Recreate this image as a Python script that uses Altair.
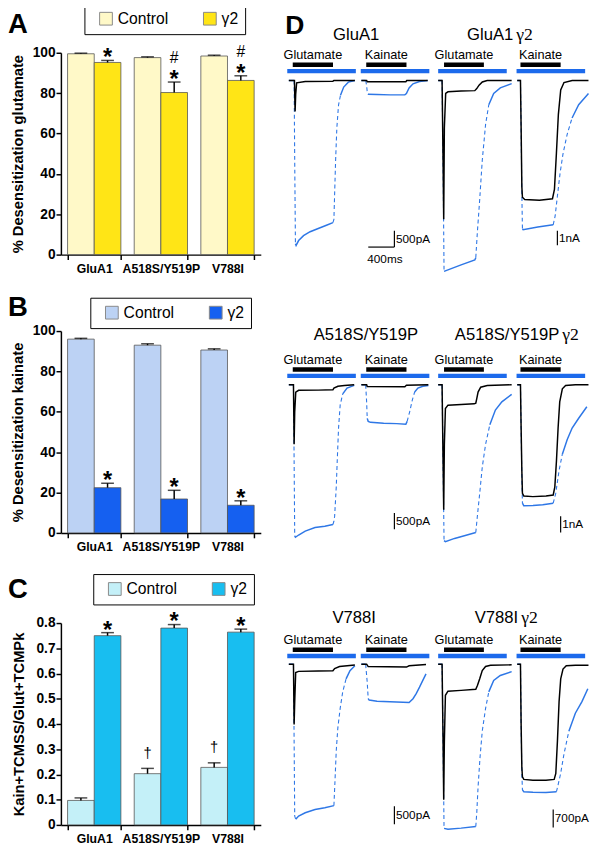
import altair as alt
import pandas as pd

SANS = "Liberation Sans, Arial, Helvetica, sans-serif"
SERIF = "Liberation Serif, Times New Roman, serif"

# ---------------- bar panels (A, B, C) ----------------
groups = ["GluA1", "A518S/Y519P", "V788I"]
conds = ["Control", "γ2"]

a_ctrl = [99.5, 97.6, 98.4]
a_ctrl_err = [0.3, 0.4, 0.4]
a_g2 = [95.2, 80.3, 86.3]
a_g2_err = [1.0, 5.2, 2.3]
a_star_g2 = ["*", "*", "*"]
a_hash_g2 = ["", "#", "#"]

b_ctrl = [96.0, 93.0, 90.6]
b_ctrl_err = [0.4, 0.7, 0.6]
b_g2 = [22.4, 16.8, 13.7]
b_g2_err = [2.2, 4.3, 2.2]
b_star_g2 = ["*", "*", "*"]

c_ctrl = [0.097, 0.203, 0.228]
c_ctrl_err = [0.010, 0.021, 0.018]
c_g2 = [0.750, 0.780, 0.764]
c_g2_err = [0.012, 0.014, 0.012]
c_star_g2 = ["*", "*", "*"]
c_dag_ctrl = ["", "†", "†"]

pct_ticks = [0, 20, 40, 60, 80, 100]
ratio_ticks = [0, 0.1, 0.2, 0.3, 0.4, 0.5, 0.6, 0.7, 0.8]

A_COLORS = ["#FFF9C8", "#FFE516"]
B_COLORS = ["#BCD2F4", "#1560F0"]
C_COLORS = ["#C4F0F8", "#18BEF0"]

# ---------------- traces (panel D) : time in ms, current in pA ----------------
# row 1 : GluA1 / GluA1 γ2
r1_g1_blue_t = [24, 105, 114, 125, 135, 174, 249, 350, 474, 600, 699, 714, 740, 759, 785, 815, 864, 935, 1035]
r1_g1_blue_i = [0, 0, -2450, -5000, -5050, -4900, -4750, -4630, -4530, -4430, -4350, -4250, -2450, -1450, -750, -450, -200, -50, 0]
r1_g1_black_t = [24, 110, 120, 129, 144, 275, 699, 714, 1035]
r1_g1_black_i = [0, 0, -950, -420, -70, -30, -20, 0, 0]
r1_k1_blue_t = [9, 75, 90, 99, 110, 249, 450, 675, 699, 740, 800, 900, 1025]
r1_k1_blue_i = [0, 0, -150, -350, -420, -430, -440, -440, -400, -230, -100, -30, 0]
r1_k1_black_t = [9, 90, 99, 690, 705, 1025]
r1_k1_black_i = [0, 0, -40, -40, 0, 0]
r1_g2_blue_t = [0, 60, 75, 90, 150, 351, 561, 576, 600, 636, 675, 726, 775, 850, 951, 1125]
r1_g2_blue_i = [0, 0, -5440, -12990, -12890, -12550, -12220, -12060, -10330, -8100, -5440, -2990, -1650, -880, -500, -210]
r1_g2_black_t = [0, 60, 75, 85, 95, 115, 150, 351, 561, 591, 626, 676, 750, 1125]
r1_g2_black_i = [0, 0, -5440, -9440, -3220, -880, -770, -720, -690, -550, -320, -100, 0, 0]
r1_k2_blue_t = [10, 60, 70, 81, 90, 100, 325, 561, 591, 625, 666, 711, 775, 850, 951, 1101]
r1_k2_blue_i = [0, 0, -3220, -7660, -10100, -10150, -9970, -9820, -9220, -7880, -6320, -4990, -3660, -2550, -1650, -880]
r1_k2_black_t = [10, 60, 70, 81, 90, 125, 350, 550, 580, 610, 640, 676, 726, 851, 1101]
r1_k2_black_i = [0, 0, -3220, -7220, -7950, -8100, -8150, -8050, -7420, -4970, -2320, -650, -140, 0, 0]

# row 2 : A518S/Y519P / A518S/Y519P γ2
r2_g1_blue_t = [24, 95, 105, 114, 125, 174, 275, 425, 575, 699, 714, 725, 750, 765, 785, 810, 849, 915, 1025]
r2_g1_blue_i = [0, 0, -2330, -4630, -4670, -4600, -4480, -4370, -4330, -4280, -4180, -4030, -3130, -2330, -1330, -620, -280, -100, -20]
r2_g1_black_t = [24, 95, 105, 114, 130, 174, 475, 699, 714, 775, 875, 1025]
r2_g1_black_i = [0, 0, -1820, -830, -230, -170, -165, -155, -105, -45, -25, 0]
r2_k1_blue_t = [9, 75, 90, 99, 114, 150, 350, 549, 690, 710, 750, 789, 825, 875, 950, 1035]
r2_k1_blue_i = [0, 0, -520, -1030, -1120, -1150, -1180, -1190, -1210, -1120, -820, -470, -220, -100, -45, -20]
r2_k1_black_t = [9, 90, 99, 675, 699, 1035]
r2_k1_black_i = [0, 0, -55, -60, -15, 0]
r2_g2_blue_t = [0, 60, 75, 90, 111, 251, 401, 576, 600, 636, 675, 726, 791, 876, 975, 1125]
r2_g2_blue_i = [0, 0, -4650, -9550, -9610, -9410, -9250, -9050, -8050, -6650, -5050, -3650, -2450, -1550, -1050, -590]
r2_g2_black_t = [0, 60, 75, 85, 95, 111, 150, 351, 551, 576, 591, 611, 651, 751, 1125]
r2_g2_black_i = [0, 0, -4650, -7650, -3650, -1450, -1250, -1210, -1170, -1130, -850, -450, -150, -50, 0]
r2_k2_blue_t = [10, 60, 70, 81, 90, 111, 251, 401, 561, 600, 651, 701, 776, 851, 951, 1076]
r2_k2_blue_i = [0, 0, -2650, -5650, -7250, -7410, -7390, -7350, -7250, -6650, -5250, -4250, -3350, -2650, -2050, -1350]
r2_k2_black_t = [10, 60, 70, 81, 90, 111, 251, 451, 561, 586, 611, 636, 661, 701, 751, 901, 1101]
r2_k2_black_i = [0, 0, -2650, -5250, -6650, -6810, -6850, -6810, -6750, -6250, -4650, -2650, -1050, -250, -50, 0, 0]

# row 3 : V788I / V788I γ2
r3_g1_blue_t = [24, 95, 105, 114, 129, 174, 275, 425, 575, 714, 729, 750, 774, 810, 849, 900, 960, 1035]
r3_g1_blue_i = [0, 0, -2140, -4230, -4320, -4230, -4140, -4050, -4000, -3940, -3320, -2410, -1780, -1230, -770, -410, -180, -45]
r3_g1_black_t = [24, 95, 105, 114, 129, 174, 475, 699, 725, 800, 1035]
r3_g1_black_i = [0, 0, -1680, -1050, -230, -200, -190, -180, -120, -65, -25]
r3_k1_blue_t = [9, 75, 99, 114, 129, 249, 450, 740, 800, 849, 900, 950, 999]
r3_k1_blue_i = [0, 0, -500, -960, -1000, -1030, -1045, -1065, -960, -820, -640, -450, -270]
r3_k1_black_t = [9, 90, 114, 700, 740, 999]
r3_k1_black_i = [0, 0, -65, -80, -45, -10]
r3_g2_blue_t = [0, 60, 75, 90, 150, 351, 576, 591, 611, 641, 675, 726, 775, 850, 951, 1125]
r3_g2_blue_i = [0, 0, -2990, -6400, -6430, -6390, -6330, -5790, -4780, -3630, -2610, -1720, -1080, -630, -440, -290]
r3_g2_black_t = [0, 60, 75, 85, 95, 111, 150, 351, 576, 601, 636, 675, 726, 801, 1125]
r3_g2_black_i = [0, 0, -2990, -5280, -2990, -1210, -1050, -1020, -980, -830, -570, -250, -90, -40, -25]
r3_k2_blue_t = [10, 60, 70, 81, 90, 111, 251, 450, 611, 641, 675, 726, 801, 900, 1001, 1091]
r3_k2_blue_i = [0, 0, -2350, -4260, -4900, -4970, -4990, -5000, -4970, -4650, -4260, -3500, -2610, -1910, -1460, -955]
r3_k2_black_t = [10, 60, 70, 81, 90, 111, 251, 450, 576, 601, 626, 651, 676, 711, 761, 901, 1101]
r3_k2_black_i = [0, 0, -2350, -4010, -4390, -4490, -4520, -4520, -4490, -4260, -2990, -1460, -570, -190, -60, -40, -40]

# drug application windows (ms): [start, end]
app_glu = [84, 700]
app_kai = [84, 700]
app_glu_g2 = [90, 700]
app_kai_g2 = [60, 675]
tcm_window = [0, 1050]

# scale bars: [time, current top, current bottom]
sb_r1_k1 = [515, -4600, -5100]
sb_r1_k1_h = [115, 515, -5100]
sb_r1_k2 = [625, -10220, -11220]
sb_r2_k1 = [515, -3925, -4425]
sb_r2_k2 = [675, -8050, -9050]
sb_r3_k1 = [515, -3960, -4460]
sb_r3_k2 = [561, -5665, -6365]

TRACE_BLUE = "#2E77E6"
TCM_BLUE = "#1C6AEC"
LEG_W, LEG_H = 158, 27


def bar_panel(ctrl, ctrl_err, g2, g2_err, star_g, hash_g, dag_c, colors, ytitle,
              ydom, yvals, letter, letter_y, legx, legy, title_pad, label_expr=None):
    rows = []
    for gi, g in enumerate(groups):
        rows.append(dict(group=g, cond="Control", value=ctrl[gi], top=ctrl[gi] + ctrl_err[gi],
                         star="", hash="", dag=dag_c[gi]))
        rows.append(dict(group=g, cond="γ2", value=g2[gi], top=g2[gi] + g2_err[gi],
                         star=star_g[gi], hash=hash_g[gi], dag=""))
    df = pd.DataFrame(rows)
    base = alt.Chart(df)
    x = alt.X("group:N", sort=groups,
              scale=alt.Scale(paddingInner=0.2, paddingOuter=0.1),
              axis=alt.Axis(title=None, labelAngle=0, labelFont=SANS, labelFontSize=12.5,
                            labelFontWeight="bold", labelColor="black", tickBand="extent",
                            tickSize=5, tickWidth=1.5, tickColor="black", domainColor="black",
                            domainWidth=1.5, labelPadding=3, labelOverlap=False))
    xo = alt.XOffset("cond:N", sort=conds, scale=alt.Scale(domain=conds, paddingInner=0, paddingOuter=0))
    ax_kw = dict(values=yvals, title=ytitle, titleFont=SANS, titleFontSize=15, titleFontWeight="bold",
                 titleColor="black", titlePadding=title_pad, labelFont=SANS, labelFontSize=14,
                 labelFontWeight="bold", labelColor="black", tickSize=5, tickWidth=1.5,
                 tickColor="black", labelPadding=1, domainColor="black", domainWidth=1.5, grid=False,
                 labelOverlap=False)
    if label_expr:
        ax_kw["labelExpr"] = label_expr
    ysc = alt.Scale(domain=ydom, nice=False, zero=True)

    def Y(f):
        return alt.Y(f, type="quantitative", scale=ysc, axis=alt.Axis(**ax_kw))

    shadow = alt.Chart(pd.DataFrame({"z": [0]})).mark_rect(color="#2a2a2a").encode(
        x=alt.value(legx + 3), x2=alt.value(legx + 3 + LEG_W),
        y=alt.value(legy + 3), y2=alt.value(legy + 3 + LEG_H))
    bars = base.mark_bar(stroke="#555555", strokeWidth=0.8).encode(
        x=x, xOffset=xo, y=Y("value"),
        color=alt.Color("cond:N", scale=alt.Scale(domain=conds, range=colors),
                        legend=alt.Legend(orient="none", legendX=legx, legendY=legy,
                                          direction="horizontal", title=None,
                                          fillColor="white", strokeColor="black", padding=7,
                                          symbolType="square", symbolSize=169,
                                          symbolStrokeColor="#888888", symbolStrokeWidth=1,
                                          symbolOffset=7, labelFont=SANS, labelFontSize=16,
                                          labelColor="black", columnPadding=27)))
    err = base.mark_rule(color="black", strokeWidth=1.5).encode(x=x, xOffset=xo, y=Y("value"), y2="top:Q")
    cap = base.mark_tick(color="black", thickness=1.5, size=13).encode(x=x, xOffset=xo, y=Y("top"))
    star = base.mark_text(font=SANS, fontSize=24, fontWeight="bold", baseline="alphabetic", dy=5,
                          color="black").encode(x=x, xOffset=xo, y=Y("top"), text="star:N")
    hsh = base.mark_text(font=SANS, fontSize=16, baseline="alphabetic", dy=-19, color="black").encode(
        x=x, xOffset=xo, y=Y("top"), text="hash:N")
    dag = base.mark_text(font=SANS, fontSize=15, baseline="alphabetic", dy=-11, color="black").encode(
        x=x, xOffset=xo, y=Y("top"), text="dag:N")
    let = alt.Chart(pd.DataFrame({"L": [letter]})).mark_text(
        font=SANS, fontSize=28, fontWeight="bold", align="left", baseline="alphabetic",
        color="black").encode(x=alt.value(-54), y=alt.value(letter_y), text="L:N")
    return alt.layer(shadow, bars, err, cap, star, hsh, dag, let).properties(width=204, height=206)


def segments(t, cur, k, dashed):
    rows = []
    seg = 0
    prev = None
    for j in range(len(t) - 1):
        dt = (t[j + 1] - t[j]) / 15.0
        di = abs(cur[j + 1] - cur[j]) / k
        style = "dash" if (dashed and di > 3.0 * max(dt, 1e-6)) else "solid"
        if style != prev:
            seg += 1
            rows.append(dict(seg=seg, style=style, t=t[j], I=cur[j]))
        rows.append(dict(seg=seg, style=style, t=t[j + 1], I=cur[j + 1]))
        prev = style
    return pd.DataFrame(rows)


def trace_panel(width, H, b, k, blue_t, blue_i, black_t, black_i, app, label,
                vbar=None, hbar=None, sb_text=None, texts=(), sh=0):
    xs = alt.Scale(domain=[0, width * 15], nice=False, zero=False)
    ys = alt.Scale(domain=[-(H - b) * k, b * k], nice=False, zero=False)

    def X(f):
        return alt.X(f, type="quantitative", scale=xs, axis=None)

    def Y(f):
        return alt.Y(f, type="quantitative", scale=ys, axis=None)

    layers = []
    tcm = alt.Chart(pd.DataFrame({"s": [tcm_window[0]], "e": [tcm_window[1]]})).mark_rule(
        color=TCM_BLUE, strokeWidth=4.5).encode(x=X("s"), x2="e", y=alt.value(23.7 - sh))
    ap = alt.Chart(pd.DataFrame({"s": [app[0]], "e": [app[1]]})).mark_rule(
        color="black", strokeWidth=4.5).encode(x=X("s"), x2="e", y=alt.value(17.3 - sh))
    lab = alt.Chart(pd.DataFrame({"m": [(app[0] + app[1]) / 2], "txt": [label]})).mark_text(
        font=SANS, fontSize=13, baseline="middle", align="center", color="black").encode(
        x=X("m"), y=alt.value(7.5 - sh), text="txt:N")
    layers += [tcm, ap, lab]
    bdf = segments(blue_t, blue_i, k, True)
    layers.append(alt.Chart(bdf).transform_filter("datum.style == 'solid'").mark_line(
        color=TRACE_BLUE, strokeWidth=1.5).encode(x=X("t"), y=Y("I"), detail="seg:N"))
    layers.append(alt.Chart(bdf).transform_filter("datum.style == 'dash'").mark_line(
        color=TRACE_BLUE, strokeWidth=1.1, strokeDash=[4, 3]).encode(x=X("t"), y=Y("I"), detail="seg:N"))
    layers.append(alt.Chart(pd.DataFrame({"t": black_t, "I": black_i})).mark_line(
        color="black", strokeWidth=1.5).encode(x=X("t"), y=Y("I")))
    if vbar:
        layers.append(alt.Chart(pd.DataFrame({"t": [vbar[0]], "a": [vbar[1]], "b": [vbar[2]]})).mark_rule(
            color="black", strokeWidth=1.2).encode(x=X("t"), y=Y("a"), y2="b"))
    if hbar:
        layers.append(alt.Chart(pd.DataFrame({"s": [hbar[0]], "e": [hbar[1]], "i": [hbar[2]]})).mark_rule(
            color="black", strokeWidth=1.2).encode(x=X("s"), x2="e", y=Y("i")))
    if sb_text:
        layers.append(alt.Chart(pd.DataFrame(sb_text, columns=["t", "i", "txt"])).mark_text(
            font=SANS, fontSize=12, align="left", baseline="middle", color="black").encode(
            x=X("t"), y=Y("i"), text="txt:N"))
    for (txt, px, py, align, font, size, weight) in texts:
        layers.append(alt.Chart(pd.DataFrame({"txt": [txt]})).mark_text(
            font=font, fontSize=size, fontWeight=weight, align=align, baseline="middle",
            color="black").encode(x=alt.value(px), y=alt.value(py - sh), text="txt:N"))
    return alt.layer(*layers).properties(width=width, height=H)


# ---------------- left column ----------------
pA = bar_panel(a_ctrl, a_ctrl_err, a_g2, a_g2_err, a_star_g2, a_hash_g2, ["", "", ""], A_COLORS,
               "% Desensitization glutamate", [0, 100], pct_ticks, "A", -20, 24, -50, 7)
pB = bar_panel(b_ctrl, b_ctrl_err, b_g2, b_g2_err, b_star_g2, ["", "", ""], ["", "", ""], B_COLORS,
               "% Desensitization kainate", [0, 100], pct_ticks, "B", -15, 30, -34, 7)
pC = bar_panel(c_ctrl, c_ctrl_err, c_g2, c_g2_err, c_star_g2, ["", "", ""], c_dag_ctrl, C_COLORS,
               "Kain+TCMSS/Glut+TCMPk", [0, 0.8], ratio_ticks, "C", -26, 33, -50, 10,
               label_expr="datum.value == 0 ? '0' : format(datum.value, '.1f')")
left = alt.vconcat(pA, pB, pC, spacing=20).resolve_scale(color="independent", x="independent", y="independent")

# ---------------- right column ----------------
W = [75, 78.6, 80, 74]
rows_cfg = [
    dict(H=279, b=28.3, k=[30, 30, 66.7, 66.7], ty=-13, sh=5),
    dict(H=262, b=32.8, k=[30, 30, 60, 60], ty=-17.7, sh=0),
    dict(H=205, b=32.0, k=[27.3, 27.3, 38.2, 38.2], ty=-14.7, sh=0),
]

r1 = rows_cfg[0]
row1 = alt.hconcat(
    trace_panel(W[0], r1["H"], r1["b"], r1["k"][0], r1_g1_blue_t, r1_g1_blue_i, r1_g1_black_t, r1_g1_black_i,
                app_glu, "Glutamate", sh=r1["sh"],
                texts=[("D", -2, -22, "left", SANS, 27, "bold"),
                       ("GluA1", 70.3, r1["ty"], "center", SANS, 17, "normal")]),
    trace_panel(W[1], r1["H"], r1["b"], r1["k"][1], r1_k1_blue_t, r1_k1_blue_i, r1_k1_black_t, r1_k1_black_i,
                app_kai, "Kainate", vbar=sb_r1_k1, hbar=sb_r1_k1_h, sh=r1["sh"],
                sb_text=[(540, -4850, "500pA"), (100, -5480, "400ms")]),
    trace_panel(W[2], r1["H"], r1["b"], r1["k"][2], r1_g2_blue_t, r1_g2_blue_i, r1_g2_black_t, r1_g2_black_i,
                app_glu_g2, "Glutamate", sh=r1["sh"],
                texts=[("GluA1", 76.7, r1["ty"], "right", SANS, 17, "normal"),
                       ("γ2", 79.7, r1["ty"], "left", SERIF, 18, "normal")]),
    trace_panel(W[3], r1["H"], r1["b"], r1["k"][3], r1_k2_blue_t, r1_k2_blue_i, r1_k2_black_t, r1_k2_black_i,
                app_kai_g2, "Kainate", vbar=sb_r1_k2, sb_text=[(650, -10720, "1nA")], sh=r1["sh"]),
    spacing=0, bounds="flush").resolve_scale(x="independent", y="independent")

r2 = rows_cfg[1]
row2 = alt.hconcat(
    trace_panel(W[0], r2["H"], r2["b"], r2["k"][0], r2_g1_blue_t, r2_g1_blue_i, r2_g1_black_t, r2_g1_black_i,
                app_glu, "Glutamate",
                texts=[("A518S/Y519P", 80.3, r2["ty"], "center", SANS, 17, "normal")]),
    trace_panel(W[1], r2["H"], r2["b"], r2["k"][1], r2_k1_blue_t, r2_k1_blue_i, r2_k1_black_t, r2_k1_black_i,
                app_kai, "Kainate", vbar=sb_r2_k1, sb_text=[(540, -4175, "500pA")]),
    trace_panel(W[2], r2["H"], r2["b"], r2["k"][2], r2_g2_blue_t, r2_g2_blue_i, r2_g2_black_t, r2_g2_black_i,
                app_glu_g2, "Glutamate",
                texts=[("A518S/Y519P", 123.7, r2["ty"], "right", SANS, 17, "normal"),
                       ("γ2", 126.7, r2["ty"], "left", SERIF, 18, "normal")]),
    trace_panel(W[3], r2["H"], r2["b"], r2["k"][3], r2_k2_blue_t, r2_k2_blue_i, r2_k2_black_t, r2_k2_black_i,
                app_kai_g2, "Kainate", vbar=sb_r2_k2, sb_text=[(700, -8550, "1nA")]),
    spacing=0, bounds="flush").resolve_scale(x="independent", y="independent")

r3 = rows_cfg[2]
row3 = alt.hconcat(
    trace_panel(W[0], r3["H"], r3["b"], r3["k"][0], r3_g1_blue_t, r3_g1_blue_i, r3_g1_black_t, r3_g1_black_i,
                app_glu, "Glutamate",
                texts=[("V788I", 68.3, r3["ty"], "center", SANS, 17, "normal")]),
    trace_panel(W[1], r3["H"], r3["b"], r3["k"][1], r3_k1_blue_t, r3_k1_blue_i, r3_k1_black_t, r3_k1_black_i,
                app_kai, "Kainate", vbar=sb_r3_k1, sb_text=[(540, -4210, "500pA")]),
    trace_panel(W[2], r3["H"], r3["b"], r3["k"][2], r3_g2_blue_t, r3_g2_blue_i, r3_g2_black_t, r3_g2_black_i,
                app_glu_g2, "Glutamate",
                texts=[("V788I", 81.7, r3["ty"], "right", SANS, 17, "normal"),
                       ("γ2", 84.7, r3["ty"], "left", SERIF, 18, "normal")]),
    trace_panel(W[3], r3["H"], r3["b"], r3["k"][3], r3_k2_blue_t, r3_k2_blue_i, r3_k2_black_t, r3_k2_black_i,
                app_kai_g2, "Kainate", vbar=sb_r3_k2, sb_text=[(586, -6015, "700pA")]),
    spacing=0, bounds="flush").resolve_scale(x="independent", y="independent")

right = alt.vconcat(row1, row2, row3, spacing=0).resolve_scale(x="independent", y="independent")

chart = alt.hconcat(left, right, spacing=23).resolve_scale(
    color="independent", x="independent", y="independent").configure_view(stroke=None).properties(
    padding={"left": 0, "top": -14, "right": 0, "bottom": 0}, background="white")

chart.save("out.html", embed_options={"renderer": "svg", "actions": False})
